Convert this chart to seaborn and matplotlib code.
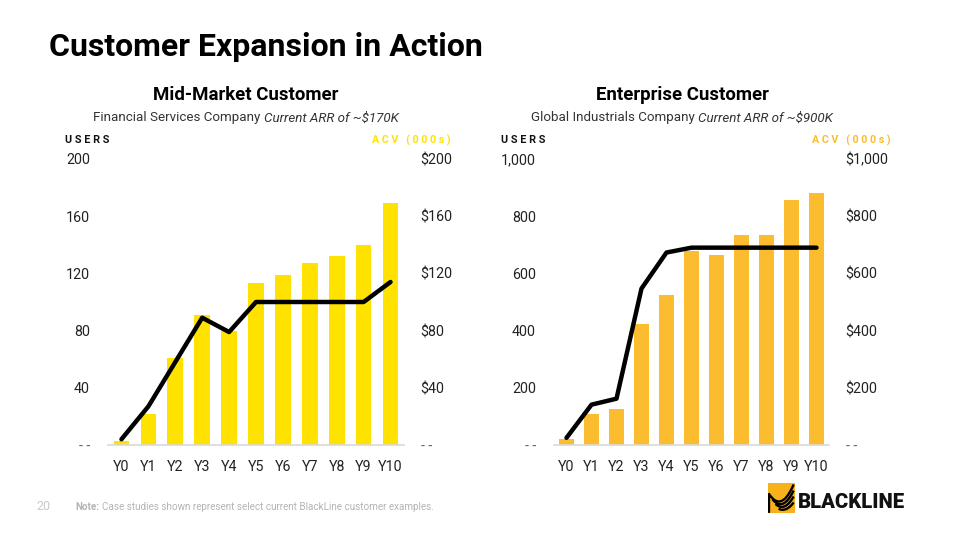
import matplotlib
matplotlib.use("Agg")
import matplotlib.pyplot as plt
import seaborn as sns
import numpy as np
import pandas as pd
from matplotlib.patches import Rectangle

# ---------------- data ----------------
years = ["Y0", "Y1", "Y2", "Y3", "Y4", "Y5", "Y6", "Y7", "Y8", "Y9", "Y10"]

mid_acv = [3, 22, 61, 91, 80, 113, 119, 127, 132, 140, 169]
mid_users = [4, 27, 58, 89, 79, 100, 100, 100, 100, 100, 114]
mid_ticks = [0, 40, 80, 120, 160, 200]
mid_left_labels = ["- -", "40", "80", "120", "160", "200"]
mid_right_labels = ["- -", "$40", "$80", "$120", "$160", "$200"]

ent_acv = [20, 108, 127, 422, 523, 677, 663, 734, 734, 855, 882]
ent_users = [25, 141, 162, 547, 673, 690, 690, 690, 690, 690, 690]
ent_ticks = [0, 200, 400, 600, 800, 1000]
ent_left_labels = ["- -", "200", "400", "600", "800", "1,000"]
ent_right_labels = ["- -", "$200", "$400", "$600", "$800", "$1,000"]

# ---------------- style ----------------
sns.set_theme(style="white")
plt.rcParams["font.family"] = ["Roboto", "DejaVu Sans"]

W, H = 960, 540
fig = plt.figure(figsize=(9.6, 5.4), dpi=100)


def fx(px):
    return px / W


def fy(py):
    return 1 - py / H


TICK_COLOR = "#222222"
SUB_Y = 118


def panel(left_px, right_px, bars, line, ticks, llabels, rlabels, ymax, bar_color,
          title, sub_reg, sub_x):
    bottom_px, top_px = 445, 159
    ax = fig.add_axes([fx(left_px), fy(bottom_px), fx(right_px - left_px),
                       (bottom_px - top_px) / H])
    df = pd.DataFrame({"year": years, "acv": bars, "users": line})
    sns.barplot(data=df, x="year", y="acv", color=bar_color, width=0.58,
                saturation=1, ax=ax, edgecolor="none")
    sns.lineplot(data=df, x="year", y="users", color="black", lw=3.2, ax=ax,
                 sort=False)
    ax.set_xlim(-0.5, len(years) - 0.5)
    ax.set_ylim(0, ymax)
    ax.set_yticks(ticks)
    ax.set_yticklabels(llabels)
    ax.set_xlabel("")
    ax.set_ylabel("")
    for s in ["top", "left", "right"]:
        ax.spines[s].set_visible(False)
    ax.spines["bottom"].set_color("#d9d9d9")
    ax.spines["bottom"].set_linewidth(1.2)
    ax.tick_params(axis="y", length=0, pad=13, labelsize=10.3, labelcolor=TICK_COLOR)
    ax.tick_params(axis="x", length=0, pad=11, labelsize=10.3, labelcolor=TICK_COLOR)
    ax.patch.set_alpha(0)

    ax2 = ax.twinx()
    ax2.set_ylim(0, ymax)
    ax2.set_yticks(ticks)
    ax2.set_yticklabels(rlabels)
    for s in ["top", "left", "right", "bottom"]:
        ax2.spines[s].set_visible(False)
    ax2.tick_params(axis="y", length=0, pad=12, labelsize=10.3, labelcolor=TICK_COLOR)
    ax2.grid(False)
    ax.grid(False)
    for a in (ax, ax2):
        a.get_yticklabels()[0].set_color("#666666")

    fig.text(fx(sub_x), fy(95.5), title, ha="center", va="center",
             fontsize=13.4, fontweight="bold", color="black")
    t1 = fig.text(0, fy(SUB_Y), sub_reg, ha="left", va="center", fontsize=9.6,
                  color="#333333")
    return ax, t1


ax1, s1 = panel(108, 404, mid_acv, mid_users, mid_ticks, mid_left_labels,
                mid_right_labels, 200, "#FFE200", "Mid-Market Customer",
                "Financial Services Company ", 246)
ax2, s2 = panel(554, 829, ent_acv, ent_users, ent_ticks, ent_left_labels,
                ent_right_labels, 1000, "#FBBD2F", "Enterprise Customer",
                "Global Industrials Company ", 682)


# subtitle lines: regular + italic, centered as a group
def subtitle(tobj, italic, center_px):
    fig.canvas.draw()
    r = fig.canvas.get_renderer()
    it = fig.text(0, fy(SUB_Y), italic, ha="left", va="center", fontsize=9.6,
                  style="italic", color="#333333")
    w1 = tobj.get_window_extent(r).width
    w2 = it.get_window_extent(r).width
    start = center_px - (w1 + w2) / 2
    tobj.set_x(fx(start))
    it.set_x(fx(start + w1))


subtitle(s1, "Current ARR of ~$170K", 246)
subtitle(s2, "Current ARR of ~$900K", 682)

# axis headers
for ux, ax_, col in [(65, 451, "#FFE200"), (501, 891, "#FBBD2F")]:
    fig.text(fx(ux), fy(140), "U S E R S", ha="left", va="center", fontsize=7.8,
             fontweight="bold", color="#111111")
    fig.text(fx(ax_), fy(140), "A C V   ( 0 0 0 s )", ha="right", va="center",
             fontsize=7.7, fontweight="bold", color=col)

# main title
fig.text(fx(49), fy(47), "Customer Expansion in Action", ha="left", va="center",
         fontsize=23, fontweight="bold", color="black")

# footer
fig.text(fx(36), fy(507), "20", ha="left", va="center", fontsize=9,
         color="#c8c8c8")
note = fig.text(fx(75), fy(507), "Note:", ha="left", va="center", fontsize=7.1,
                fontweight="bold", color="#b4b4b4")
fig.canvas.draw()
nw = note.get_window_extent(fig.canvas.get_renderer()).width
fig.text(fx(75 + nw + 3), fy(507),
         "Case studies shown represent select current BlackLine customer examples.",
         ha="left", va="center", fontsize=7.1, color="#b4b4b4")

# logo
lax = fig.add_axes([fx(768), fy(513), fx(27), 30 / H])
lax.set_xlim(0, 1)
lax.set_ylim(0, 1)
lax.axis("off")
lax.add_patch(Rectangle((0, 0), 1, 1, color="#F7B21B"))
t = np.linspace(0, 1, 30)
for k in range(4):
    y0 = 0.62 - 0.16 * k
    xs = 0.0 + 0.12 * k + t * (1.0 - 0.12 * k)
    ys = y0 * (1 - t) ** 2 + 2 * (1 - t) * t * (0.02) + t ** 2 * (0.95 - 0.2 * k)
    lax.plot(xs * 0.95 + 0.05 * (1 - t), ys, color="black", lw=1.7,
             solid_capstyle="butt")
lax.plot([0.02, 0.02], [0.05, 0.62], color="black", lw=1.7)
fig.text(fx(798), fy(502), "BLACKLINE", ha="left", va="center", fontsize=14.6,
         fontweight="heavy", color="#111111")

fig.savefig("out.png", dpi=100)
